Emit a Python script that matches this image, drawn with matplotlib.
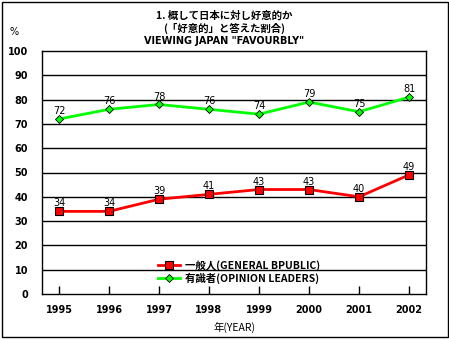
import matplotlib.pyplot as plt
from matplotlib.patches import Rectangle

plt.rcParams['font.family'] = ['Noto Sans CJK JP', 'DejaVu Sans']

# ============ Data ============
years = ['1995', '1996', '1997', '1998', '1999', '2000', '2001', '2002']
general_public = [34, 34, 39, 41, 43, 43, 40, 49]
opinion_leaders = [72, 76, 78, 76, 74, 79, 75, 81]
y_ticks = [0, 10, 20, 30, 40, 50, 60, 70, 80, 90, 100]

W, H = 449, 340
fig = plt.figure(figsize=(W / 100, H / 100), dpi=100)
fig.patch.set_facecolor('white')

# plot area in pixels: left 42, right 426, top 51, bottom 294
ax = fig.add_axes([42 / W, 1 - 294 / H, (426 - 42) / W, (294 - 51) / H])
xs = list(range(len(years)))
ax.set_xlim(-0.34, len(years) - 1 + 0.34)
ax.set_ylim(0, 100)

for y in y_ticks[1:-1]:
    ax.axhline(y, color='black', linewidth=1, zorder=1)
for s in ax.spines.values():
    s.set_linewidth(1)

ax.plot(xs, general_public, color='#ff0000', linewidth=2, marker='s',
        markersize=5.5, markerfacecolor='#ff0000', markeredgecolor='black',
        markeredgewidth=0.8, label='一般人(GENERAL BPUBLIC)', zorder=3)
ax.plot(xs, opinion_leaders, color='#00ff00', linewidth=2, marker='D',
        markersize=4.2, markerfacecolor='#00ff00', markeredgecolor='black',
        markeredgewidth=0.6, label='有識者(OPINION LEADERS)', zorder=3)

for x, v in zip(xs, general_public):
    ax.text(x, v + 1.2, str(v), ha='center', va='bottom', fontsize=7,
            family='DejaVu Sans')
for x, v in zip(xs, opinion_leaders):
    ax.text(x, v + 1.2, str(v), ha='center', va='bottom', fontsize=7,
            family='DejaVu Sans')

ax.set_xticks(xs)
ax.set_xticklabels(years, fontsize=7, fontweight='bold', family='DejaVu Sans')
ax.tick_params(axis='x', direction='in', length=6, width=1, pad=8)
ax.set_yticks(y_ticks)
ax.set_yticklabels([str(v) for v in y_ticks], fontsize=7, fontweight='bold',
                   family='DejaVu Sans')
ax.tick_params(axis='y', length=0, pad=10)

ax.legend(loc='upper left', bbox_to_anchor=(0.29, 0.157), frameon=False,
          handlelength=2.2, handletextpad=0.4, labelspacing=0.15,
          borderaxespad=0, prop={'weight': 'bold', 'size': 7.5})

ax.set_xlabel('年(YEAR)', fontsize=7.5, labelpad=5)

fig.text(224 / W, 1 - 16 / H, '1. 概して日本に対し好意的か', ha='center',
         va='center', fontsize=7.5, fontweight='bold')
fig.text(224 / W, 1 - 28 / H, '(「好意的」と答えた割合)', ha='center',
         va='center', fontsize=7.5, fontweight='bold')
fig.text(224 / W, 1 - 41 / H, 'VIEWING JAPAN "FAVOURBLY"', ha='center',
         va='center', fontsize=7, fontweight='bold', family='DejaVu Sans')
fig.text(14 / W, 1 - 32 / H, '%', ha='center', va='center', fontsize=7,
         family='DejaVu Sans')

fig.add_artist(Rectangle((1.5 / W, 1 - 337 / H), 446 / W, 335 / H,
                         transform=fig.transFigure, fill=False,
                         edgecolor='black', linewidth=1))

fig.savefig('out.png', dpi=100)
